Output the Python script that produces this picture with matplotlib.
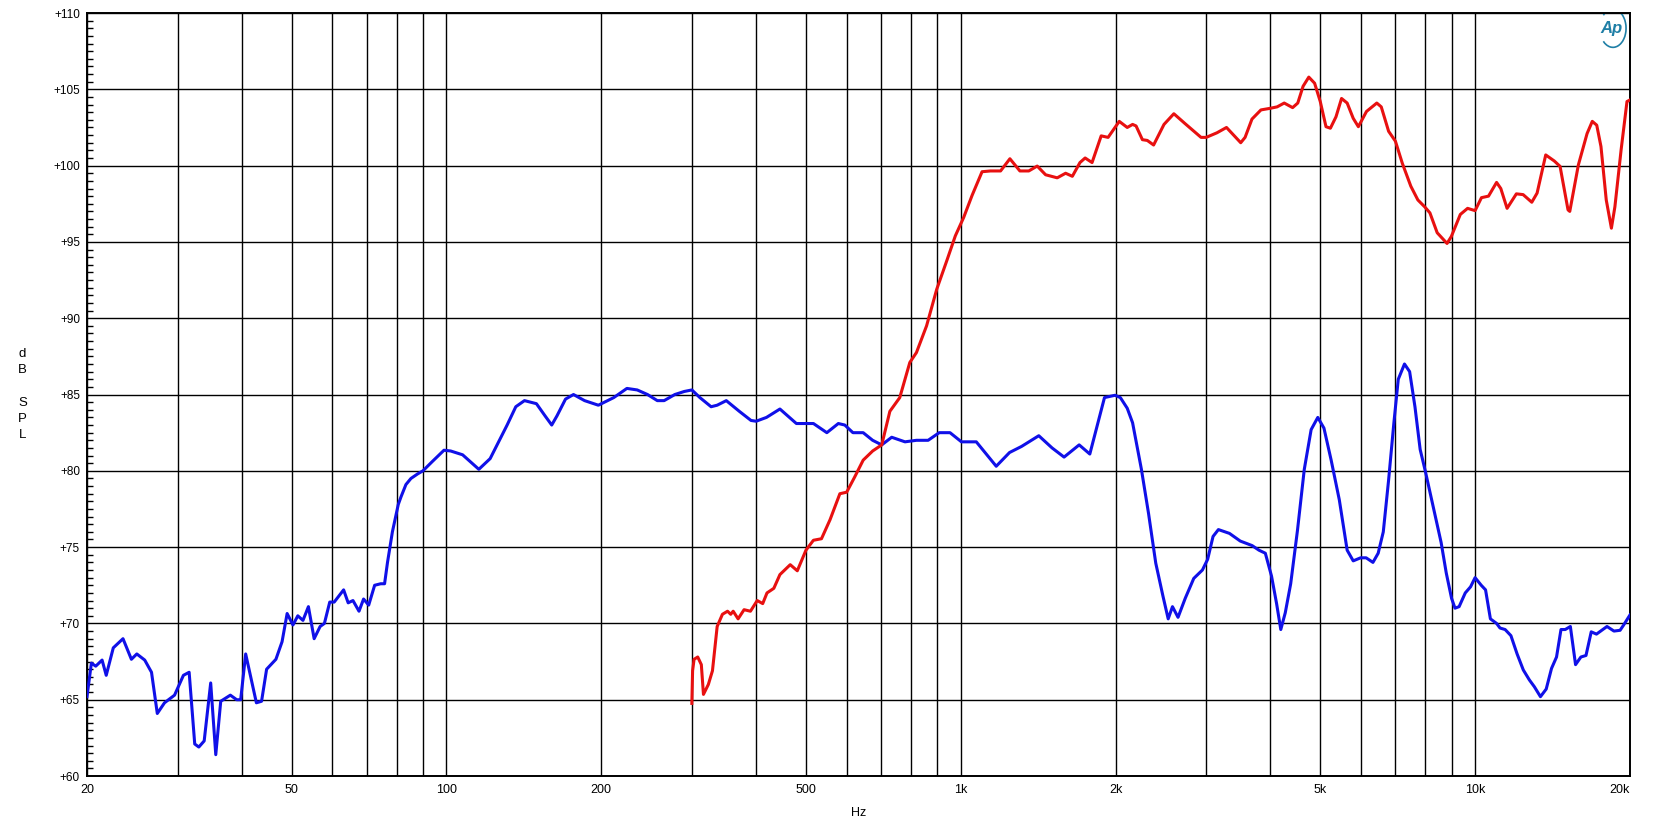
import matplotlib
matplotlib.use("Agg")
import matplotlib.pyplot as plt
from matplotlib.ticker import FixedLocator, MultipleLocator, NullFormatter
from matplotlib.patches import Arc

plt.rcParams['font.family'] = ['Liberation Sans', 'DejaVu Sans']

# blue trace (Hz, dB SPL)
blue_freq = [20, 20.4, 20.8, 21.4, 21.8, 22.5, 23.5, 24.4, 25.0, 25.9, 26.7, 27.4, 28.3, 29.6,
             30.8, 31.6, 32.4, 33.0, 33.8, 34.8, 35.6, 36.4, 38.0, 39.1, 39.8, 40.7, 42.7, 43.7,
             44.7, 46.6, 47.9, 49.0, 50.3, 51.4, 52.6, 53.9, 55.3, 56.8, 57.9, 59.3, 60.5, 63.1,
             64.4, 65.8, 67.6, 69.0, 70.6, 72.5, 74.5, 75.8, 76.8, 78.5, 80.6, 81.6, 83.4, 85.3,
             87.9, 90, 93.8, 98.9, 101.9, 107.5, 115.6, 121.6, 126.3, 131.2, 136.4, 141.8, 149.6,
             155.5, 160.2, 164.0, 170.4, 176.6, 185.6, 197.4, 211.5, 224.3, 234.9, 246, 257, 265,
             278, 290, 300, 311, 327, 336, 350, 371, 391, 400, 419, 445, 479, 517, 549, 578, 595,
             617, 646, 674, 702, 734, 779, 820, 864, 908, 953, 1003, 1072, 1121, 1172, 1244, 1313,
             1418, 1505, 1588, 1699, 1782, 1830, 1903, 1995, 2043, 2107, 2158, 2245, 2318, 2394,
             2472, 2531, 2580, 2645, 2732, 2838, 2950, 3020, 3094, 3169, 3330, 3494, 3686, 3800,
             3910, 4020, 4112, 4190, 4275, 4380, 4515, 4655, 4800, 4945, 5083, 5250, 5445, 5640,
             5795, 5990, 6140, 6330, 6480, 6630, 6790, 6950, 7090, 7290, 7460, 7640, 7820, 8000,
             8260, 8590, 8790, 9000, 9140, 9310, 9570, 9800, 10000, 10280, 10480, 10710, 11010,
             11180, 11440, 11740, 12070, 12410, 12750, 13040, 13400, 13750, 14080, 14400, 14690,
             14970, 15320, 15680, 16060, 16430, 16820, 17220, 18050, 18620, 19140, 19450, 20000]
blue_db = [65.2, 67.4, 67.2, 67.6, 66.6, 68.4, 69.0, 67.65, 68.0, 67.6, 66.8, 64.1, 64.8, 65.3,
           66.6, 66.8, 62.1, 61.9, 62.3, 66.1, 61.4, 64.9, 65.3, 65.0, 65.0, 68.0, 64.8, 64.9,
           67.0, 67.65, 68.8, 70.65, 69.9, 70.5, 70.2, 71.1, 69.0, 69.8, 70.0, 71.4, 71.4, 72.2,
           71.35, 71.5, 70.8, 71.6, 71.2, 72.5, 72.6, 72.6, 74.0, 76.0, 77.8, 78.3, 79.1, 79.5,
           79.8, 80.0, 80.6, 81.35, 81.3, 81.05, 80.1, 80.8, 81.9, 83.0, 84.2, 84.6, 84.4,
           83.6, 83.0, 83.6, 84.7, 85.0, 84.6, 84.3, 84.8, 85.4, 85.3, 85.0, 84.6, 84.6,
           85.0, 85.2, 85.3, 84.8, 84.2, 84.3, 84.6, 83.9, 83.3, 83.25, 83.5, 84.05, 83.1, 83.1, 82.5, 83.1, 83.0,
           82.5, 82.5, 82.0, 81.7, 82.2, 81.9, 82.0, 82.0, 82.5, 82.5, 81.9, 81.9, 81.1, 80.3, 81.2, 81.6,
           82.3, 81.5, 80.9, 81.7, 81.1, 82.6, 84.8, 84.95, 84.8, 84.1, 83.15, 80.1, 77.2, 73.95,
           71.8, 70.3, 71.1, 70.4, 71.65, 72.95, 73.5, 74.2, 75.7, 76.15, 75.9, 75.4, 75.1, 74.8,
           74.6, 73.1, 71.3, 69.6, 70.7, 72.6, 76.1, 80.1, 82.7, 83.5, 82.8, 80.7, 78.1, 74.8,
           74.1, 74.3, 74.3, 74.0, 74.6, 76.0, 79.4, 83.1, 86.0, 87.0, 86.5, 84.2, 81.4, 80.0,
           77.9, 75.3, 73.3, 71.65, 71.0, 71.1, 72.0, 72.4, 73.0, 72.5, 72.2, 70.3, 70.0,
           69.7, 69.6, 69.2, 68.0, 66.95, 66.3, 65.85, 65.2, 65.7, 67.05, 67.8, 69.6,
           69.6, 69.8, 67.3, 67.8, 67.9, 69.45, 69.3, 69.8, 69.5, 69.55, 69.9, 70.55]

# red trace (Hz, dB SPL)
red_freq = [300, 301, 303, 308, 313, 316, 323, 329, 336, 344, 352, 357, 361, 369, 379, 390, 402,
            412, 420, 433, 445, 466, 481, 500, 517, 536, 557, 582, 600, 622, 646, 674, 702, 728,
            761, 796, 820, 858, 898, 940, 976, 1013, 1052, 1100, 1142, 1195, 1246, 1303, 1356,
            1408, 1462, 1540, 1599, 1648, 1705, 1745, 1800, 1875, 1934, 1980, 2033, 2107, 2158,
            2192, 2255, 2305, 2371, 2484, 2596, 2730, 2932, 3000, 3148, 3286, 3392, 3502, 3571,
            3683, 3834, 3988, 4122, 4255, 4418, 4521, 4630, 4750, 4875, 5000, 5130, 5232, 5365,
            5500, 5640, 5795, 5930, 6150, 6440, 6570, 6790, 7000, 7220, 7500, 7740, 7980, 8170,
            8440, 8820, 8990, 9360, 9670, 10000, 10290, 10620, 11010, 11220, 11540, 12030, 12400,
            12890, 13200, 13720, 14260, 14630, 15160, 15280, 15880, 16510, 16900, 17240, 17570,
            17990, 18410, 18700, 19230, 19740, 20000]
red_db = [64.76, 66.9, 67.65, 67.8, 67.3, 65.35, 66.0, 66.9, 69.8, 70.6, 70.8, 70.6, 70.8, 70.3,
          70.9, 70.8, 71.5, 71.3, 72.0, 72.3, 73.2, 73.85, 73.45, 74.8, 75.45, 75.55, 76.8, 78.5,
          78.6, 79.6, 80.7, 81.3, 81.7, 83.9, 84.8, 87.1, 87.75, 89.5, 91.9, 93.8, 95.4, 96.6,
          98.05, 99.6, 99.65, 99.65, 100.45, 99.65, 99.65, 99.97, 99.4, 99.2, 99.5, 99.3, 100.2,
          100.5, 100.2, 101.95, 101.85, 102.35, 102.9, 102.5, 102.7, 102.6, 101.7, 101.65, 101.35,
          102.7, 103.4, 102.75, 101.85, 101.85, 102.15, 102.5, 102.0, 101.5, 101.85, 103.05,
          103.65, 103.75, 103.85, 104.1, 103.8, 104.1, 105.2, 105.8, 105.4, 104.2, 102.55, 102.45,
          103.2, 104.4, 104.1, 103.1, 102.55, 103.55, 104.1, 103.85, 102.25, 101.6, 100.15, 98.65,
          97.75, 97.3, 96.9, 95.6, 94.9, 95.35, 96.8, 97.2, 97.05, 97.9, 98.0, 98.9, 98.5, 97.2,
          98.15, 98.1, 97.6, 98.2, 100.7, 100.3, 99.95, 97.1, 97.0, 100.05, 102.1, 102.9, 102.65,
          101.25, 97.75, 95.9, 97.3, 101.05, 104.2, 104.3]

x_ticks = [20, 50, 100, 200, 500, 1000, 2000, 5000, 10000, 20000]
x_labels = ['20', '50', '100', '200', '500', '1k', '2k', '5k', '10k', '20k']
x_minor = [30, 40, 60, 70, 80, 90, 300, 400, 600, 700, 800, 900,
           3000, 4000, 6000, 7000, 8000, 9000]
y_ticks = list(range(60, 111, 5))
y_labels = ['+%d' % v for v in y_ticks]

fig = plt.figure(figsize=(16.63, 8.34), dpi=100)
ax = fig.add_axes([0.0523, 0.0695, 0.9278, 0.9149])

ax.plot(blue_freq, blue_db, color='#1010e8', lw=2.2, zorder=3)
ax.plot(red_freq, red_db, color='#e81010', lw=2.2, zorder=3)

ax.set_xscale('log')
ax.set_xlim(20, 20000)
ax.set_ylim(60, 110)

ax.xaxis.set_major_locator(FixedLocator(x_ticks))
ax.xaxis.set_minor_locator(FixedLocator(x_minor))
ax.xaxis.set_minor_formatter(NullFormatter())
ax.set_xticklabels(x_labels)
ax.get_xticklabels()[-1].set_ha('right')

ax.set_yticks(y_ticks)
ax.set_yticklabels(y_labels)
ax.yaxis.set_minor_locator(MultipleLocator(0.5))

ax.tick_params(axis='x', which='both', length=0, pad=6, labelsize=9)
ax.tick_params(axis='y', which='major', length=0, pad=5, labelsize=8.5)
ax.tick_params(axis='y', which='minor', direction='in', length=4, width=1.0)

ax.grid(True, axis='x', which='both', color='black', lw=1.0)
ax.grid(True, axis='y', which='major', color='black', lw=1.0)
ax.set_axisbelow(True)
for s in ax.spines.values():
    s.set_linewidth(1.4)

ax.set_xlabel('Hz', fontsize=9)
ax.xaxis.set_label_coords(0.5, -0.04)
fig.text(0.0135, 0.527, 'd\nB\n\nS\nP\nL', fontsize=9.5, ha='center', va='center', linespacing=1.45)

# Ap logo
ax.text(0.988, 0.98, 'Ap', transform=ax.transAxes, fontsize=12, fontstyle='italic',
        fontweight='bold', color='#1f7fa6', ha='center', va='center')
ax.add_patch(Arc((0.989, 0.98), 0.017, 0.05, angle=0, theta1=-110, theta2=110,
                 transform=ax.transAxes, color='#1f7fa6', lw=1.2))

fig.savefig('out.png', dpi=100)
